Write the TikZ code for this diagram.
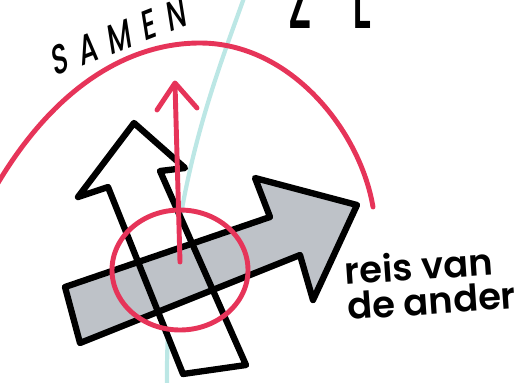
\documentclass[tikz,border=0pt]{standalone}
\usepackage{fontspec}
\setmainfont{Poppins}
\newfontfamily\handfont{Poppins}[UprightFont=* Medium]
\newfontfamily\handvet{Poppins}[UprightFont=* SemiBold]
\definecolor{samenrood}{HTML}{E63459}
\definecolor{lijncyaan}{HTML}{BCE7E5}
\definecolor{pijlgrijs}{HTML}{BEC2C8}
\begin{document}
\begin{tikzpicture}[x=0.02cm, y=-0.02cm, line join=round, line cap=round,
  omtrek/.style={draw=black, line width=3.6pt},
  rood/.style={draw=samenrood, line width=2.8pt},
  hand/.style={inner sep=0pt, anchor=base west, font=\handvet\fontsize{21}{20}\selectfont, align=left}]
\useasboundingbox (0,0) rectangle (519,382);
\draw[draw=lijncyaan, line width=2.4pt] (245,-5) .. controls (215,80) and (165,200) .. (167,390);
\draw[rood] (-5,188) .. controls (55,85) and (130,43) .. (200,43) .. controls (290,43) and (360,130) .. (373,207);
\node[hand, font=\handfont\fontsize{24}{24}\selectfont\addfontfeature{LetterSpace=42}, xscale=0.64, rotate=14] (samen) at (54,77) {SAMEN};
\node[hand, font=\handfont\fontsize{44}{44}\selectfont, xscale=0.55] (top) at (288,28) {Z\hspace{0.95em}L};
\path[fill=white] (134,123) -- (185,168) -- (160,171) -- (246,365) -- (183,374) -- (108,187) -- (78,197) -- cycle;
\path[fill=pijlgrijs] (65,287) -- (270,217) -- (255,178) -- (357,205) -- (313,300) -- (300,255) -- (80,343) -- cycle;
\draw[omtrek] (134,123) -- (185,168) -- (160,171) -- (246,365) -- (183,374) -- (108,187) -- (78,197) -- cycle;
\draw[omtrek] (65,287) -- (270,217) -- (255,178) -- (357,205) -- (313,300) -- (300,255) -- (80,343) -- cycle;
\draw[rood] (180,270) ellipse [x radius=68, y radius=60];
\draw[rood] (180,262) -- (175,84);
\draw[rood] (157,110) -- (175,83) -- (197,108);
\node[hand, rotate=4] (reis) at (348,320) {reis van\\de ander};
\end{tikzpicture}
\end{document}
